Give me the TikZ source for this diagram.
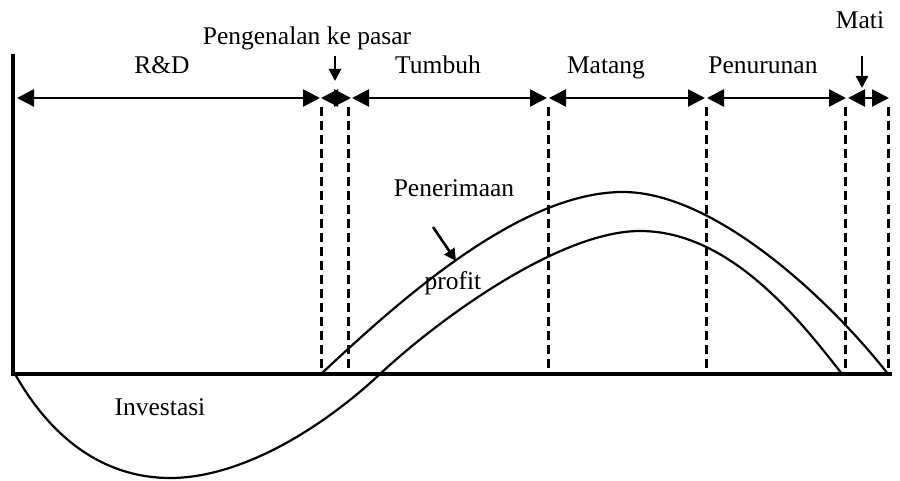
\documentclass[tikz,border=0pt]{standalone}
\usepackage{fontspec}
\setmainfont{Liberation Serif}
\usetikzlibrary{arrows.meta}
\begin{document}
\begin{tikzpicture}[x=1pt,y=-1pt,
  lbl/.style={font=\fontsize{25.5}{28}\selectfont, anchor=base, inner sep=0pt},
  span/.style={line width=2.6pt, {Triangle[length=17pt,width=17pt]}-{Triangle[length=17pt,width=17pt]}},
  ptr/.style={line width=2.6pt, -{Triangle[length=12pt,width=12pt]}},
  guide/.style={line width=3pt, dash pattern=on 9pt off 5pt},
  curve/.style={line width=2.2pt},
  axis/.style={line width=4.5pt}]
\useasboundingbox (0,0) rectangle (900,481);
% axes
\coordinate (axtop) at (13,54);
\coordinate (axbot) at (13,376);
\coordinate (bl) at (11,374);
\coordinate (br) at (892,374);
\draw[axis] (axtop) -- (axbot);
\draw[axis] (bl) -- (br);
% phase spans
\coordinate (s0) at (17,98);
\coordinate (s1) at (320,98);
\coordinate (s2) at (321,98);
\coordinate (s3) at (351,98);
\coordinate (s4) at (352,98);
\coordinate (s5) at (547,98);
\coordinate (s6) at (549,98);
\coordinate (s7) at (705,98);
\coordinate (s8) at (707,98);
\coordinate (s9) at (846,98);
\coordinate (s10) at (848,98);
\coordinate (s11) at (889,98);
\draw[span] (s0) -- (s1);
\draw[span] (s2) -- (s3);
\draw[span] (s4) -- (s5);
\draw[span] (s6) -- (s7);
\draw[span] (s8) -- (s9);
\draw[span] (s10) -- (s11);
% dashed guides
\foreach \gx [count=\i] in {321,348,548,706,845,888}{
  \coordinate (gt\i) at (\gx,107);
  \coordinate (gb\i) at (\gx,373);
  \draw[guide] (gt\i) -- (gb\i);
}
% labels
\node[lbl] (rd) at (162,74) {R\&D};
\node[lbl] (pk) at (307,45) {Pengenalan ke pasar};
\node[lbl] (tb) at (438,74) {Tumbuh};
\node[lbl] (mt) at (606,74) {Matang};
\node[lbl] (pn) at (763,74) {Penurunan};
\node[lbl] (mi) at (860,29) {Mati};
\node[lbl] (pr) at (454,197) {Penerimaan};
\node[lbl] (pf) at (453,290) {profit};
\node[lbl] (iv) at (160,415) {Investasi};
% pointer arrows
\coordinate (pka) at (335,56);
\coordinate (pkb) at (335,81);
\draw[ptr] (pka) -- (pkb);
\coordinate (mia) at (862,56);
\coordinate (mib) at (862,88);
\draw[ptr] (mia) -- (mib);
\coordinate (pra) at (433,227);
\coordinate (prb) at (456,261);
\draw[ptr] (pra) -- (prb);
% revenue curve
\coordinate (r0) at (321,374);
\coordinate (rp) at (623,192);
\coordinate (r1) at (888,374);
\draw[curve] (r0) .. controls (400,300) and (520,192) .. (rp)
  .. controls (715,192) and (830,300) .. (r1);
% investment / profit curve
\coordinate (c0) at (15,374);
\coordinate (cm) at (170,478);
\coordinate (cx) at (380,374);
\coordinate (cp) at (640,231);
\coordinate (c1) at (842,374);
\draw[curve] (c0) .. controls (55,445) and (110,478) .. (cm)
  .. controls (240,478) and (320,430) .. (cx)
  .. controls (440,318) and (560,231) .. (cp)
  .. controls (730,231) and (800,320) .. (c1);
\end{tikzpicture}
\end{document}
